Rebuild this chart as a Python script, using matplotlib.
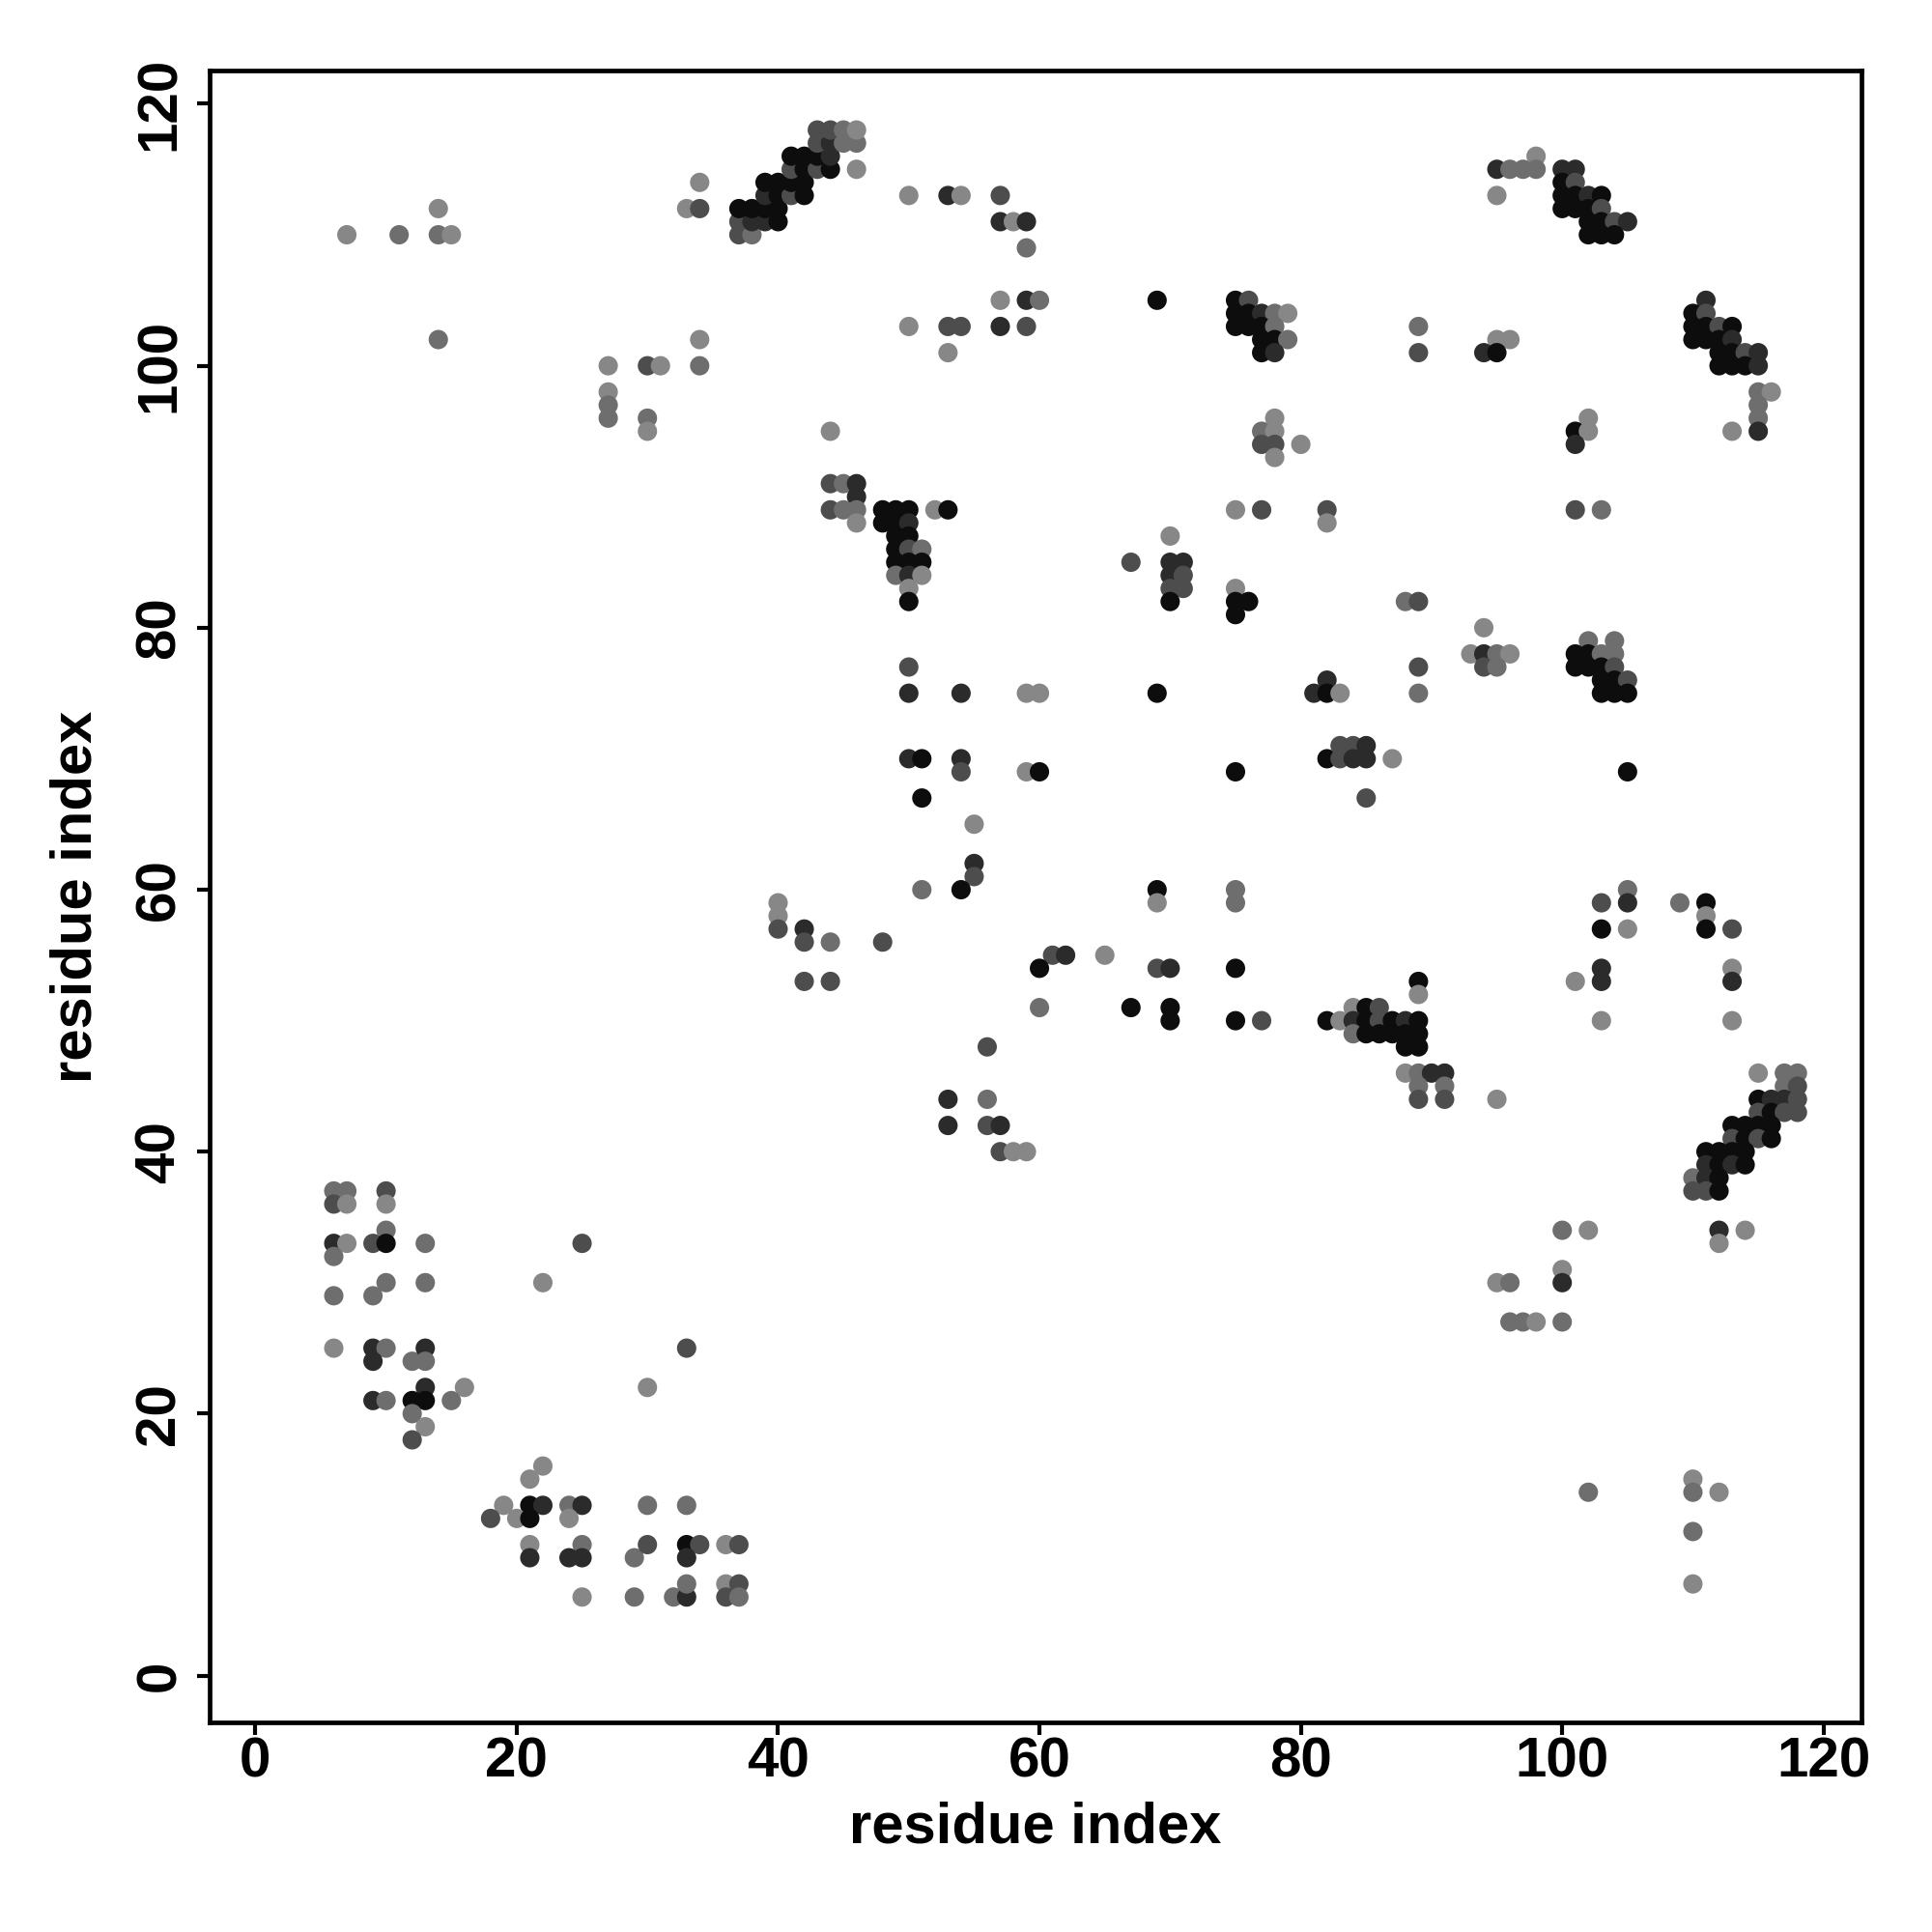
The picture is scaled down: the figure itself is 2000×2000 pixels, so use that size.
import matplotlib
matplotlib.use("Agg")
import matplotlib.pyplot as plt

# shade codes: k=black, d=dark, m=dark gray, g=gray, l=light gray
SHADE = {"k": 0.05, "d": 0.17, "m": 0.30, "g": 0.43, "l": 0.53}

contacts = """
7,110,l 11,110,g 14,112,l 14,110,g 15,110,l 14,102,g
27,100,l 27,98,l 27,97,g 27,96,g 30,100,m 31,100,l 34,100,g 34,102,l 30,96,g 30,95,l
34,114,l 33,112,l 34,112,m 44,95,l 44,91,m
37,110,m 38,110,g
37,111,m 38,111,d 39,111,d 40,111,k
37,112,k 38,112,k 39,112,k 40,112,k
39,113,d 40,113,k 41,113,m 42,113,k
39,114,k 40,114,k 41,114,k 42,114,k
41,115,m 42,115,k 43,115,m 44,115,k 46,115,l
41,116,k 42,116,k 43,116,k 44,116,d
43,117,m 44,117,d 45,117,g 46,117,g
43,118,m 44,118,m 45,118,g 46,118,l
98,116,l 95,115,d 96,115,g 97,115,g 98,115,g 95,113,l
100,115,d 101,115,d 100,114,k 101,114,m 100,113,k 101,113,k 102,113,d 103,113,k
100,112,k 101,112,k 102,112,k 103,112,m 102,111,k 103,111,k 104,111,m 105,111,d
102,110,k 103,110,k 104,110,k
89,103,g 89,101,m 95,102,l 96,102,l 94,101,d 95,101,k
102,96,l 101,95,k 102,95,l 101,94,d
111,105,d 110,104,k 111,104,m 110,103,k 111,103,k 112,103,m 113,103,k
110,102,k 111,102,k 112,102,k 113,102,d 112,101,k 113,101,k 114,101,m 115,101,d
112,100,k 113,100,k 114,100,k 115,100,d
115,98,g 116,98,l 115,97,g 115,96,g 115,95,d 113,95,l
50,113,l 53,113,d 54,113,l 57,113,m 57,111,d 58,111,l 59,111,d 59,109,g
57,105,l 59,105,d 60,105,g 69,105,k
75,105,k 76,105,m 75,104,k 76,104,k 77,104,d 78,104,g 79,104,l
75,103,k 76,103,k 77,103,k 78,103,g 77,102,k 78,102,k 79,102,g 77,101,k 78,101,d
50,103,l 53,103,m 54,103,m 57,103,d 59,103,m 53,101,l
78,96,l 77,95,g 78,95,l 77,94,m 78,94,m 80,94,l 78,93,l
45,91,g 46,91,d 46,90,d
44,89,m 45,89,g 46,89,g 46,88,l
48,89,k 49,89,k 50,89,k 48,88,k 49,88,k 50,88,d 49,87,k 50,87,k
49,86,k 50,86,m 51,86,g 49,85,k 50,85,k 51,85,k 49,84,g 50,84,d 51,84,l 50,83,l 50,82,k
52,89,l 53,89,k
75,89,l 77,89,m 82,89,m 82,88,l
70,87,l 67,85,m 70,85,d 71,85,d 70,84,d 71,84,m 70,83,m 71,83,m 70,82,k
75,83,l 75,82,k 76,82,k 75,81,k
50,77,m 50,75,d 54,75,d 59,75,l 60,75,l 69,75,k
81,75,d 82,76,d 82,75,k 83,75,l
50,70,d 51,70,k 54,70,d 54,69,m 59,69,l 60,69,k 75,69,k
51,67,k 55,65,l 55,62,d 55,61,m
82,70,k 83,71,m 84,71,m 85,71,d 83,70,m 84,70,d 85,70,d 87,70,l 85,67,m
101,89,m 103,89,g 88,82,g 89,82,m 94,80,l 93,78,l 94,78,d 95,78,g 96,78,l 94,77,m 95,77,g
89,77,m 89,75,g
102,79,g 104,79,g 101,78,k 102,78,k 103,78,g 104,78,g 101,77,k 102,77,k 103,77,k 104,77,m
103,76,k 104,76,k 105,76,m 103,75,k 104,75,k 105,75,k 105,69,k
40,59,l 40,58,l 40,57,m 42,57,d 42,56,m 44,56,g 42,53,m 44,53,m
6,37,g 7,37,g 6,36,m 7,36,l 10,37,m 10,36,l 10,34,g
6,33,d 7,33,l 9,33,m 10,33,k 13,33,g 25,33,m
51,60,g 54,60,k 69,60,k 69,59,l 75,60,g 75,59,g
48,56,m 61,55,m 62,55,d 65,55,l 60,54,k 69,54,m 70,54,d 75,54,k
60,51,g 67,51,k 70,51,k 70,50,k 75,50,k 77,50,m 82,50,k
56,48,m 53,44,d 56,44,g 53,42,d 56,42,m 57,42,d 57,40,m 58,40,l 59,40,l
105,60,g 103,59,m 105,59,d 109,59,g 111,59,k 111,58,l 103,57,k 105,57,l 111,57,k 113,57,m
103,54,d 103,53,d 101,53,l 113,54,l 113,53,d 103,50,l 113,50,l
89,53,k 89,52,l
84,51,l 85,51,k 86,51,m
83,50,l 84,50,d 85,50,k 86,50,m 87,50,k 88,50,d 89,50,k
84,49,g 85,49,k 86,49,k 87,49,k 88,49,k 89,49,k 88,48,k 89,48,k
88,46,l 89,46,g 90,46,d 91,46,d 89,45,g 91,45,g 89,44,m 91,44,m 95,44,l
115,46,l 117,46,g 118,46,g 117,45,g 118,45,m
115,44,k 116,44,d 117,44,d 118,44,m 115,43,m 116,43,k 117,43,m 118,43,m
113,42,k 114,42,k 115,42,k 116,42,k 113,41,m 114,41,k 115,41,m 116,41,k
111,40,k 112,40,k 113,40,k 114,40,k 111,39,d 112,39,k 113,39,d 114,39,k
110,38,g 111,38,d 112,38,k 110,37,m 111,37,m 112,37,k
100,34,g 102,34,l 112,34,d 114,34,l 112,33,l
6,32,g 6,29,g 9,29,g 10,30,g 13,30,g 22,30,l
6,25,l 9,25,d 10,25,g 9,24,d 12,24,g 13,25,d 13,24,g 13,22,d 16,22,l 15,21,g
9,21,d 10,21,g 12,21,k 13,21,k 12,20,g 13,19,l 12,18,m
30,22,l 33,25,m
22,16,l 21,15,l 19,13,l 21,13,k 22,13,d 24,13,g 25,13,d 30,13,g 33,13,g
18,12,m 20,12,l 21,12,k 24,12,l
21,10,l 21,9,d 25,10,g 24,9,d 25,9,d 29,9,g 30,10,m 33,10,k 34,10,m 33,9,d 36,10,l 37,10,m
25,6,l 29,6,g 32,6,g 33,6,d 33,7,g 36,7,l 37,7,m 36,6,m 37,6,g
95,30,l 96,30,g 100,31,l 100,30,d 96,27,g 97,27,g 98,27,l 100,27,g
102,14,g 110,15,l 110,14,g 112,14,l 110,11,g 110,7,l
"""

res_i, res_j, shade = [], [], []
for tok in contacts.split():
    a, b, c = tok.split(",")
    res_i.append(int(a))
    res_j.append(int(b))
    shade.append(c)

x_ticks = [0, 20, 40, 60, 80, 100, 120]
y_ticks = [0, 20, 40, 60, 80, 100, 120]
x_label = "residue index"
y_label = "residue index"

plt.rcParams["font.family"] = ["Liberation Sans", "DejaVu Sans"]
plt.rcParams["font.weight"] = "bold"

fig = plt.figure(figsize=(10, 10), dpi=200)
ax = fig.add_axes([0.1085, 0.1085, 0.855, 0.855])

colors = [str(SHADE[c]) for c in shade]
ax.scatter(res_i, res_j, s=52, c=colors, linewidths=0, zorder=3)

ax.set_xlim(-3.5, 122.9)
ax.set_ylim(-3.57, 122.54)
ax.set_xticks(x_ticks)
ax.set_yticks(y_ticks)
ax.set_xticklabels([str(t) for t in x_ticks], fontsize=21, fontweight="bold")
ax.set_yticklabels([str(t) for t in y_ticks], fontsize=21, fontweight="bold",
                   rotation=90, va="center")
ax.tick_params(axis="both", direction="out", length=4.7, width=1.5, colors="black")
ax.tick_params(axis="x", pad=0.5)
ax.tick_params(axis="y", pad=4)
for sp in ax.spines.values():
    sp.set_linewidth(1.7)
    sp.set_color("black")

ax.set_xlabel(x_label, fontsize=21.5, fontweight="bold")
ax.set_ylabel(y_label, fontsize=21.5, fontweight="bold")
ax.xaxis.set_label_coords(0.5, -0.0637)
ax.xaxis.label.set_va("center")
ax.yaxis.set_label_coords(-0.0807, 0.5)
ax.yaxis.label.set_va("center")

fig.savefig("out.png", dpi=200, facecolor="white")
